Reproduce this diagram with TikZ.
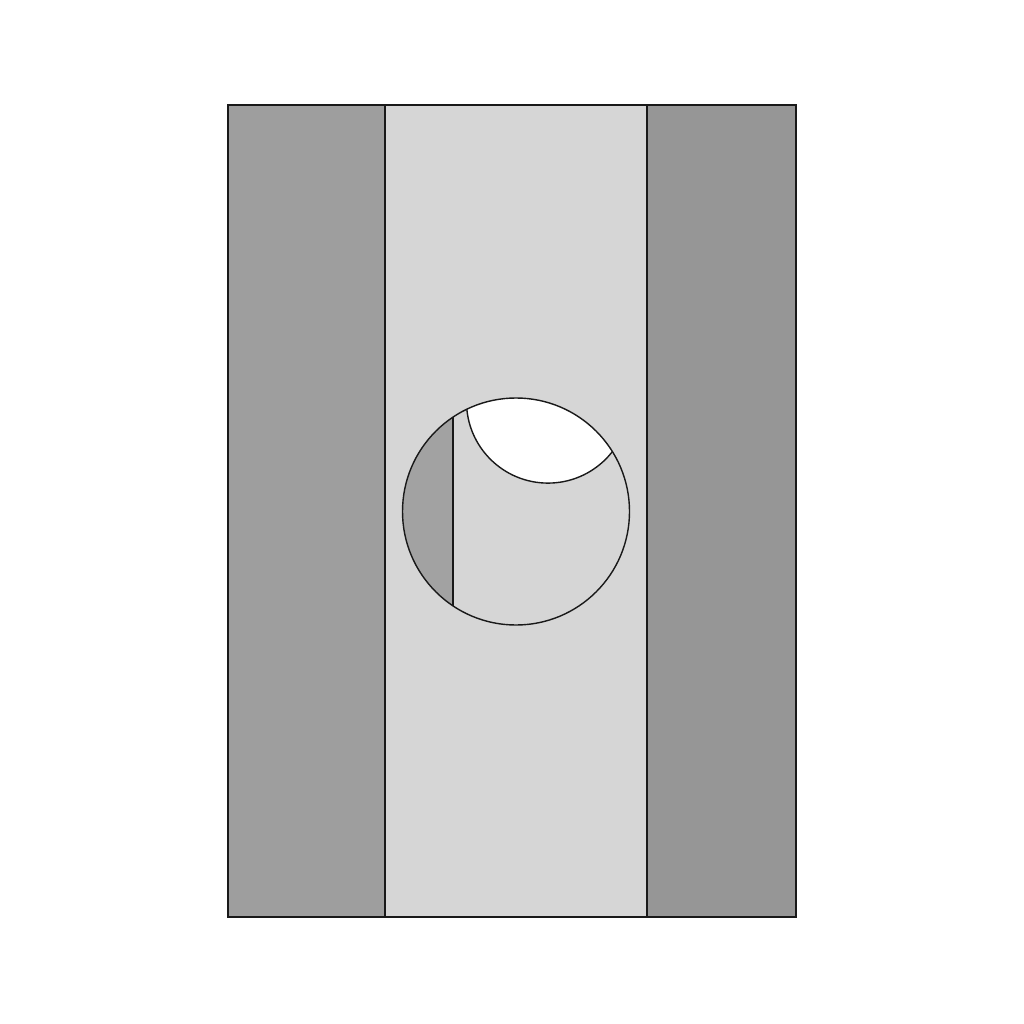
\documentclass[tikz,border=0pt]{standalone}
\usepackage{tikz}
\definecolor{darkstrip}{HTML}{9E9E9E}
\definecolor{darkstripR}{HTML}{969696}
\definecolor{lightstrip}{HTML}{D6D6D6}
\definecolor{segdark}{HTML}{A2A2A2}
\tikzset{edge/.style={draw=black!90, line width=1.6pt}}
\begin{document}
\begin{tikzpicture}[x=1pt,y=-1pt]
\useasboundingbox (0,0) rectangle (1024,1024);
\fill[white] (0,0) rectangle (1024,1024);
% strips
\filldraw[edge, fill=darkstrip] (228,105) rectangle (385,917);
\filldraw[edge, fill=lightstrip] (385,105) rectangle (647,917);
\filldraw[edge, fill=darkstripR] (647,105) rectangle (796,917);
% circle contents
\begin{scope}
\clip (516,511.5) circle (113.5);
\fill[lightstrip] (516,511.5) circle (113.5);
\fill[segdark] (380,380) rectangle (453,640);
\filldraw[edge, line width=1.4pt, fill=white] (548,401.6) circle (81.5);
\draw[edge, line width=1.6pt] (453,380) -- (453,640);
\end{scope}
\draw[edge, line width=1.4pt] (516,511.5) circle (113.5);
\end{tikzpicture}
\end{document}
